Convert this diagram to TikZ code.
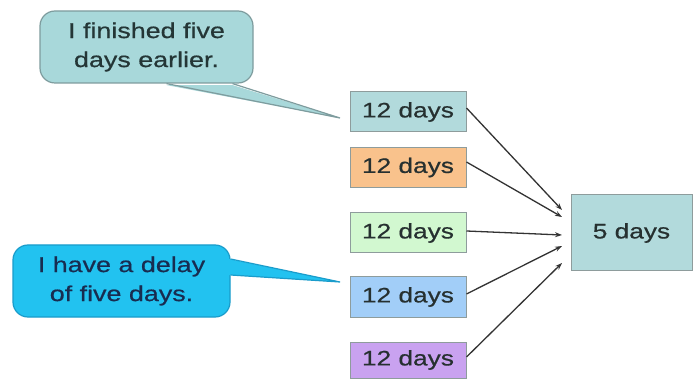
\documentclass[tikz,border=0pt]{standalone}
\usepackage{fontspec}
\setmainfont{Liberation Sans}[FakeStretch=1.25,FakeBold=0.6]
\usetikzlibrary{arrows.meta}
\definecolor{tealbox}{HTML}{B2DADC}
\definecolor{orangebox}{HTML}{F9C28C}
\definecolor{greenbox}{HTML}{D2F8D0}
\definecolor{bluebox}{HTML}{A2CEF8}
\definecolor{purplebox}{HTML}{C9A2F0}
\definecolor{boxline}{HTML}{8E9C9C}
\definecolor{boxtext}{HTML}{263030}
\definecolor{cA}{HTML}{A8D8DA}
\definecolor{cAline}{HTML}{7E9C9E}
\definecolor{cAtext}{HTML}{243636}
\definecolor{cB}{HTML}{22C2F0}
\definecolor{cBline}{HTML}{1A9CCB}
\definecolor{cBtext}{HTML}{182C50}
\definecolor{arrowcol}{HTML}{333333}
\begin{document}
\begin{tikzpicture}[x=1pt,y=-1pt,
  daybox/.style={draw=boxline,line width=1pt,minimum width=116pt,minimum height=40pt,inner sep=0pt,text=boxtext,font=\fontsize{21}{24}\selectfont},
  callout/.style={rounded corners=15pt,line width=1.2pt,inner sep=0pt,align=center,font=\fontsize{21.5}{29}\selectfont},
  conn/.style={draw=arrowcol,line width=1.3pt,-{Stealth[length=7pt,width=5pt]}}]
\useasboundingbox (0,0) rectangle (693,379);
\fill[white] (0,0) rectangle (693,379);
% day boxes
\node[daybox,fill=tealbox] (d1) at (408,112) {12 days};
\node[daybox,fill=orangebox] (d2) at (408,167.5) {12 days};
\node[daybox,fill=greenbox] (d3) at (408,233) {12 days};
\node[daybox,fill=bluebox] (d4) at (408,297) {12 days};
\node[daybox,fill=purplebox,minimum height=36pt] (d5) at (408,360) {12 days};
\node[daybox,fill=tealbox,minimum width=121pt,minimum height=76pt] (t) at (631.5,233) {5 days};
% connectors
\coordinate (e1) at (562,210);
\coordinate (e2) at (562,217);
\coordinate (e3) at (562,235);
\coordinate (e4) at (562,246);
\coordinate (e5) at (562,263);
\draw[conn] ([yshift=4pt]d1.east) -- (e1);
\draw[conn] ([yshift=5.5pt]d2.east) -- (e2);
\draw[conn] ([yshift=2pt]d3.east) -- (e3);
\draw[conn] ([yshift=3pt]d4.east) -- (e4);
\draw[conn] ([yshift=3pt]d5.east) -- (e5);
% callout 1
\node[callout,fill=cA,draw=cAline,minimum width=213pt,minimum height=72pt,text=cAtext] (c1) at (146.5,47) {I finished five\\days earlier.};
\coordinate (tip1) at (340,118);
\fill[cA] ([xshift=20pt,yshift=-1.5pt]c1.south) -- (tip1) -- ([xshift=86pt,yshift=-1.5pt]c1.south) -- cycle;
\draw[cAline,line width=1.2pt] ([xshift=20pt]c1.south) -- (tip1) -- ([xshift=86pt]c1.south);
% callout 2
\node[callout,fill=cB,draw=cBline,minimum width=217pt,minimum height=72pt,text=cBtext] (c2) at (121.5,281) {I have a delay\\of five days.};
\coordinate (tip2) at (340,282);
\fill[cB] ([xshift=-1.5pt,yshift=6pt]c2.east) -- (tip2) -- ([xshift=-1.5pt,yshift=22pt]c2.east) -- cycle;
\draw[cBline,line width=1.2pt] ([yshift=6pt]c2.east) -- (tip2) -- ([yshift=22pt]c2.east);
\end{tikzpicture}
\end{document}
